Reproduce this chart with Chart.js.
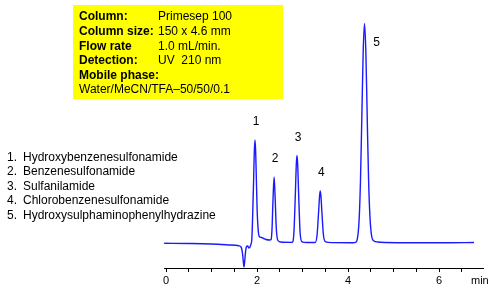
<!DOCTYPE html>
<html>
<head>
<meta charset="utf-8">
<script src="https://cdn.jsdelivr.net/npm/chart.js@4/dist/chart.umd.min.js"></script>
<style>
  html, body { margin: 0; padding: 0; background: #fff; }
  #chrom { display: block; }
</style>
</head>
<body>
<canvas id="chrom" width="498" height="294"></canvas>
<script>
// --- data ---
const peakNames = [
  'Hydroxybenzenesulfonamide',
  'Benzenesulfonamide',
  'Sulfanilamide',
  'Chlorobenzenesulfonamide',
  'Hydroxysulphaminophenylhydrazine'
];
const peakTimes = [1.956, 2.376, 2.879, 3.39, 4.363];
const peakHeights = [103, 66, 87.5, 52, 219.5];

const conditionLabels = ['Column:', 'Column size:', 'Flow rate', 'Detection:', 'Mobile phase:'];
const conditionValues = ['Primesep 100', '150 x 4.6 mm', '1.0 mL/min.', 'UV  210 nm', ''];
const mobilePhase = 'Water/MeCN/TFA\u201350/50/0.1';

// retention time (min) / detector signal (arbitrary units)
const traceTimes = [
  -0.04, 0.5, 1.0, 1.4, 1.6, 1.65, 1.68, 1.70, 1.714, 1.73, 1.75, 1.77, 1.795, 1.82, 1.84, 1.86, 1.885,
  1.90, 1.925, 1.94, 1.956, 1.97, 1.985, 2.005, 2.03, 2.05, 2.1, 2.15, 2.2, 2.28,
  2.31, 2.33, 2.353, 2.376, 2.399, 2.425, 2.46, 2.52,
  2.77, 2.81, 2.845, 2.863, 2.879, 2.895, 2.913, 2.948, 2.99, 3.1,
  3.28, 3.32, 3.355, 3.375, 3.39, 3.405, 3.425, 3.46, 3.51, 3.65,
  4.12, 4.163, 4.203, 4.243, 4.273, 4.303, 4.333, 4.363, 4.393, 4.423, 4.453, 4.483, 4.523, 4.57, 4.65, 4.8,
  5.5, 6.2, 6.77
];
const traceSignal = [
  -0.3, -0.5, -1.0, -2.0, -2.8, -4, -10, -19, -24, -18, -8, -3.5, -3, -5, -4.5, -2, 3,
  20, 62, 90, 103, 92, 66, 30, 11, 6.5, 5.5, 4.5, 3.5, 3,
  3.5, 14, 45, 66, 45, 14, 2.5, 1,
  0.6, 9.5, 52, 78, 87.5, 78, 52, 10, 1.2, 0.5,
  0.5, 8, 32, 47, 52, 47, 32, 8, 1.2, 0.4,
  0.3, 0.6, 3.7, 22, 60, 124, 190, 219.5, 190, 124, 62, 26, 6, 2, 1, 0.5,
  0.3, 0.3, 0.5
];

const xTickValues = [0, 0.5, 1, 1.5, 2, 2.5, 3, 3.5, 4, 4.5, 5, 5.5, 6, 6.5];
const xTickLabels = ['0', '', '', '', '2', '', '', '', '4', '', '', '', '6', ''];
const xUnit = 'min';

// --- drawing ---
const FONT = '"Liberation Sans", Arial, sans-serif';

const chromText = {
  id: 'chromText',
  afterDraw(chart) {
    const { ctx, scales: { x, y } } = chart;
    ctx.save();

    // yellow conditions box
    ctx.fillStyle = '#ffff00';
    ctx.fillRect(73, 5, 210, 94);
    ctx.fillStyle = '#000';
    ctx.textBaseline = 'middle';
    ctx.textAlign = 'left';
    conditionLabels.forEach((lab, i) => {
      const yy = 17 + i * 14.6;
      ctx.font = 'bold 12px ' + FONT;
      ctx.fillText(lab, 79, yy);
      ctx.font = '12px ' + FONT;
      ctx.fillText(conditionValues[i], 158, yy);
    });
    ctx.font = '12px ' + FONT;
    ctx.fillText(mobilePhase, 79, 17 + 5 * 14.6);

    // compound list
    peakNames.forEach((name, i) => {
      const yy = 157.5 + i * 14.5;
      ctx.fillText((i + 1) + '.', 7, yy);
      ctx.fillText(name, 23, yy);
    });

    // peak numbers
    ctx.textAlign = 'center';
    peakTimes.forEach((t, i) => {
      const px = x.getPixelForValue(t);
      const py = y.getPixelForValue(peakHeights[i]);
      if (i === peakTimes.length - 1) {
        ctx.fillText(String(i + 1), px + 12, py + 19);
      } else {
        ctx.fillText(String(i + 1), px + 1, py - 18);
      }
    });

    // axis unit
    ctx.font = '11px ' + FONT;
    ctx.textAlign = 'left';
    ctx.textBaseline = 'top';
    ctx.fillText(xUnit, 471, 275);
    ctx.restore();
  }
};

new Chart(document.getElementById('chrom').getContext('2d'), {
  type: 'line',
  data: {
    datasets: [{
      data: traceTimes.map((t, i) => ({ x: t, y: traceSignal[i] })),
      borderColor: '#1a1aff',
      borderWidth: 1.4,
      pointRadius: 0,
      fill: false,
      cubicInterpolationMode: 'monotone',
      clip: false
    }]
  },
  options: {
    responsive: false,
    animation: false,
    devicePixelRatio: 1,
    layout: { padding: { top: 10, left: 164, right: 15, bottom: 0 } },
    plugins: { legend: { display: false }, tooltip: { enabled: false } },
    scales: {
      x: {
        type: 'linear',
        min: -0.044,
        max: 6.967,
        afterBuildTicks: s => { s.ticks = xTickValues.map(v => ({ value: v })); },
        afterFit: s => { s.height = 26; },
        ticks: {
          autoSkip: false,
          maxRotation: 0,
          padding: 2,
          color: '#000',
          font: { family: FONT, size: 11 },
          callback: (v, i) => xTickLabels[i]
        },
        grid: { drawOnChartArea: false, drawTicks: true, tickLength: 4, color: '#000' },
        border: { display: true, color: '#000', width: 1 }
      },
      y: {
        display: false,
        min: -25,
        max: 233
      }
    }
  },
  plugins: [chromText]
});
</script>
</body>
</html>
